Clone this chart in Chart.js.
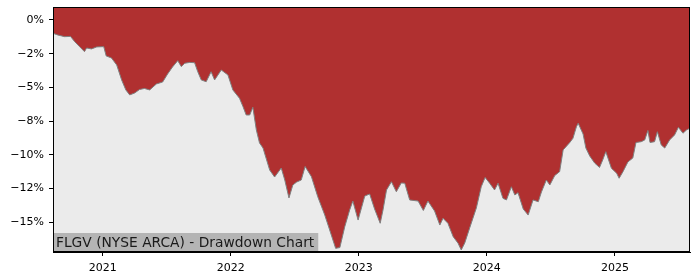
<!DOCTYPE html>
<html>
<head>
<meta charset="utf-8">
<script src="https://cdn.jsdelivr.net/npm/chart.js@4.4.1/dist/chart.umd.min.js"></script>
<style>
html,body{margin:0;padding:0;background:#fff;}
#c{display:block;}
</style>
</head>
<body>
<canvas id="c" width="700" height="280"></canvas>
<script>
const chartTitle = 'FLGV (NYSE ARCA) - Drawdown Chart';

const dates = [
'2020-08-12','2020-08-25','2020-09-14','2020-10-01','2020-10-13','2020-10-27','2020-11-10','2020-11-16','2020-11-30','2020-12-15',
'2021-01-04','2021-01-11','2021-01-26','2021-02-10','2021-02-24','2021-03-08','2021-03-19','2021-04-02','2021-04-16','2021-04-30',
'2021-05-15','2021-06-03','2021-06-21','2021-07-05','2021-07-19','2021-08-03','2021-08-13','2021-08-23','2021-09-06','2021-09-20',
'2021-09-29','2021-10-09','2021-10-23','2021-11-06','2021-11-16','2021-12-05','2021-12-24','2022-01-07','2022-01-26','2022-02-05',
'2022-02-14','2022-02-24','2022-03-05','2022-03-15','2022-03-24','2022-04-03','2022-04-22','2022-05-06','2022-05-25','2022-06-04',
'2022-06-16','2022-06-27','2022-07-08','2022-07-21','2022-08-01','2022-08-19','2022-09-06','2022-09-26','2022-10-10','2022-10-27',
'2022-11-08','2022-11-22','2022-12-06','2022-12-15','2022-12-30','2023-01-18','2023-02-01','2023-02-15','2023-03-03','2023-03-11',
'2023-03-21','2023-04-04','2023-04-18','2023-05-02','2023-05-12','2023-05-26','2023-06-19','2023-07-04','2023-07-17','2023-08-05',
'2023-08-20','2023-08-29','2023-09-12','2023-09-27','2023-10-11','2023-10-20','2023-10-30','2023-11-13','2023-12-02','2023-12-16',
'2023-12-27','2024-01-09','2024-01-23','2024-02-02','2024-02-16','2024-02-26','2024-03-11','2024-03-21','2024-03-30','2024-04-14',
'2024-04-28','2024-05-12','2024-05-27','2024-06-05','2024-06-19','2024-06-29','2024-07-13','2024-07-27','2024-08-06','2024-08-25',
'2024-09-03','2024-09-13','2024-09-18','2024-10-02','2024-10-10','2024-10-21','2024-11-04','2024-11-18','2024-11-27','2024-12-06',
'2024-12-22','2025-01-06','2025-01-13','2025-01-24','2025-02-07','2025-02-21','2025-03-02','2025-03-17','2025-03-27','2025-04-05',
'2025-04-11','2025-04-24','2025-05-02','2025-05-13','2025-05-23','2025-06-06','2025-06-20','2025-07-01','2025-07-14','2025-07-24',
'2025-08-03'
];

const drawdown = [
-0.99,-1.11,-1.24,-1.22,-1.61,-1.98,-2.35,-2.08,-2.15,-2.00,
-1.98,-2.67,-2.82,-3.34,-4.45,-5.19,-5.56,-5.42,-5.16,-5.08,
-5.19,-4.75,-4.60,-4.01,-3.49,-3.02,-3.46,-3.21,-3.15,-3.17,
-3.84,-4.45,-4.58,-3.84,-4.45,-3.71,-4.08,-5.19,-5.81,-6.43,
-7.05,-7.05,-6.48,-8.16,-9.12,-9.50,-11.13,-11.65,-10.98,-11.87,
-13.20,-12.24,-12.02,-11.87,-10.87,-11.62,-13.11,-14.47,-15.58,-16.94,
-16.88,-15.33,-14.09,-13.43,-14.84,-13.06,-12.91,-14.02,-15.08,-14.09,
-12.61,-12.00,-12.74,-12.09,-12.11,-13.35,-13.43,-14.13,-13.43,-14.17,
-15.21,-14.71,-15.08,-16.07,-16.56,-17.06,-16.54,-15.43,-13.95,-12.37,
-11.68,-12.11,-12.61,-12.11,-13.23,-13.35,-12.37,-12.98,-12.81,-14.02,
-14.47,-13.35,-13.48,-12.76,-11.87,-12.24,-11.54,-11.25,-9.64,-9.09,
-8.78,-7.92,-7.66,-8.46,-9.50,-10.09,-10.61,-10.94,-10.39,-9.77,
-11.00,-11.37,-11.74,-11.25,-10.53,-10.24,-9.09,-9.03,-8.90,-8.20,
-9.09,-9.03,-8.29,-9.27,-9.50,-8.90,-8.53,-7.96,-8.40,-8.16,
-8.03
];

const yearTicks = [2021, 2022, 2023, 2024, 2025];
const yearLabels = ['2021', '2022', '2023', '2024', '2025'];
const yTickValues = [0, -2.5, -5, -7.5, -10, -12.5, -15];
const yTickLabels = ['0%', '\u22122%', '\u22125%', '\u22128%', '\u221210%', '\u221212%', '\u221215%'];
const yMin = -17.21, yMax = 0.96;

function decYear(s) {
  const [y, m, d] = s.split('-').map(Number);
  const t = Date.UTC(y, m - 1, d), a = Date.UTC(y, 0, 1), b = Date.UTC(y + 1, 0, 1);
  return y + (t - a) / (b - a);
}
const pts = dates.map((d, i) => ({ x: decYear(d), y: drawdown[i] }));

const tickFont = { family: 'DejaVu Sans', size: 11 };

const decor = {
  id: 'decor',
  beforeDraw(chart) {
    const a = chart.chartArea, c = chart.ctx;
    c.save();
    c.fillStyle = '#ebebeb';
    c.fillRect(a.left, a.top, a.right - a.left, a.bottom - a.top);
    c.restore();
  },
  afterDraw(chart) {
    const a = chart.chartArea, c = chart.ctx;
    c.save();
    c.font = '13.8px "DejaVu Sans"';
    const w = c.measureText(chartTitle).width;
    c.fillStyle = '#b4b4b4';
    c.fillRect(a.left, a.bottom - 19, w + 7, 19);
    c.fillStyle = '#1a1a1a';
    c.textBaseline = 'middle';
    c.fillText(chartTitle, a.left + 3, a.bottom - 9);
    c.strokeStyle = '#000';
    c.lineWidth = 1;
    c.strokeRect(a.left + 0.5, a.top + 0.5, a.right - a.left - 1, a.bottom - a.top - 1);
    c.restore();
  }
};

new Chart(document.getElementById('c'), {
  type: 'line',
  data: {
    datasets: [{
      data: pts,
      fill: 'end',
      backgroundColor: '#b03030',
      borderColor: '#808080',
      borderWidth: 1,
      pointRadius: 0,
      tension: 0
    }]
  },
  options: {
    responsive: false,
    animation: false,
    devicePixelRatio: 1,
    layout: { padding: { top: 7, right: 10, left: 0, bottom: 0 } },
    plugins: { legend: { display: false }, tooltip: { enabled: false } },
    scales: {
      x: {
        type: 'linear',
        min: pts[0].x,
        max: pts[pts.length - 1].x,
        grid: { display: true, drawOnChartArea: false, drawTicks: true, tickLength: 4, color: '#000' },
        border: { display: true, color: '#000', width: 1 },
        afterBuildTicks: s => { s.ticks = yearTicks.map(v => ({ value: v })); },
        afterFit: s => { s.height = 28; s.paddingLeft = 0; s.paddingRight = 0; },
        ticks: {
          font: tickFont, color: '#000', padding: 6, maxRotation: 0, autoSkip: false,
          callback: v => { const i = yearTicks.indexOf(v); return i >= 0 ? yearLabels[i] : ''; }
        }
      },
      y: {
        min: yMin,
        max: yMax,
        grid: { display: true, drawOnChartArea: false, drawTicks: true, tickLength: 4, color: '#000' },
        border: { display: true, color: '#000', width: 1 },
        afterBuildTicks: s => { s.ticks = yTickValues.map(v => ({ value: v })); },
        afterFit: s => { s.width = 53; s.paddingTop = 0; s.paddingBottom = 0; },
        ticks: {
          font: tickFont, color: '#000', padding: 5, autoSkip: false,
          callback: v => { const i = yTickValues.indexOf(v); return i >= 0 ? yTickLabels[i] : ''; }
        }
      }
    }
  },
  plugins: [decor]
});
</script>
</body>
</html>
